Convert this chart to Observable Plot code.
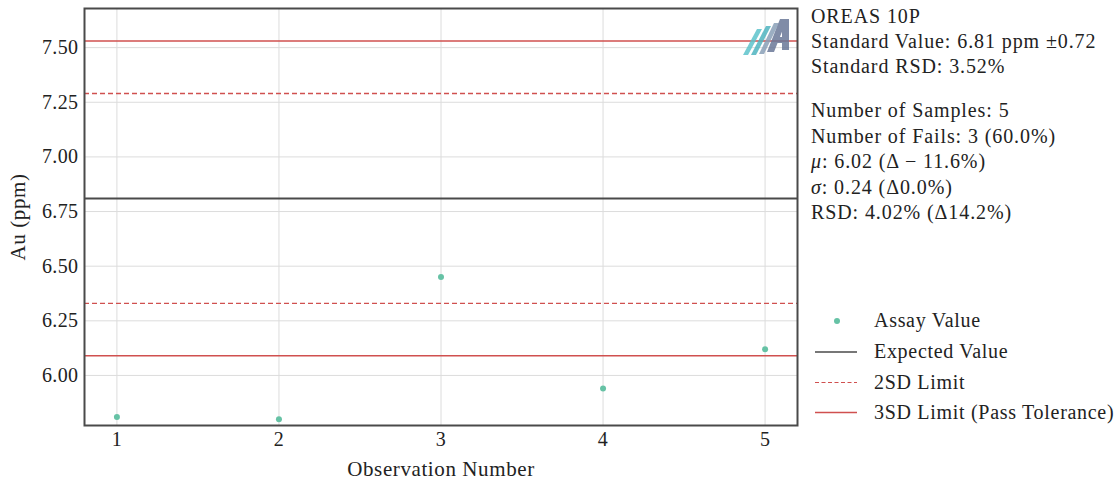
<!DOCTYPE html>
<html>
<head>
<meta charset="utf-8">
<script src="https://cdn.jsdelivr.net/npm/d3@7"></script>
<script src="https://cdn.jsdelivr.net/npm/@observablehq/plot@0.6"></script>
<style>
  html, body { margin: 0; padding: 0; background: #fff; }
  svg { display: block; }
</style>
</head>
<body>
<div id="chart"></div>
<script>
// ---- data ----
const observations = [1, 2, 3, 4, 5];
const assayValues = [5.81, 5.80, 6.45, 5.94, 6.12];
const expectedValue = [6.81];
const limits2SD = [6.33, 7.29];
const limits3SD = [6.09, 7.53];
const xTicks = [1, 2, 3, 4, 5];
const yTicks = [6.00, 6.25, 6.50, 6.75, 7.00, 7.25, 7.50];
const infoBlock1 = ["OREAS 10P", "Standard Value: 6.81 ppm \u00b10.72", "Standard RSD: 3.52%"];
const infoBlock2 = [
  [{t: "Number of Samples: 5"}],
  [{t: "Number of Fails: 3 (60.0%)"}],
  [{t: "\u03bc", i: true}, {t: ": 6.02 (\u0394 \u2212 11.6%)"}],
  [{t: "\u03c3", i: true}, {t: ": 0.24 (\u03940.0%)"}],
  [{t: "RSD: 4.02% (\u039414.2%)"}]
];
const legendLabels = ["Assay Value", "Expected Value", "2SD Limit", "3SD Limit (Pass Tolerance)"];

const points = observations.map((o, i) => ({obs: o, au: assayValues[i]}));

const FONT = "'Liberation Serif', 'DejaVu Serif', serif";
const RED = "#d0504f";
const TEAL = "#66c2a5";
const DARK = "#4a4a4a";

const chart = Plot.plot({
  width: 1118,
  height: 482,
  marginLeft: 84,
  marginRight: 321,
  marginTop: 8,
  marginBottom: 57,
  style: {fontFamily: FONT, fontSize: "20px", color: "#222", background: "#fff"},
  x: {domain: [0.8, 5.2], ticks: xTicks},
  y: {domain: [5.771, 7.679], ticks: yTicks},
  marks: [
    Plot.gridX(xTicks, {stroke: "#dcdcdc", strokeOpacity: 1, strokeWidth: 1}),
    Plot.gridY(yTicks, {stroke: "#dcdcdc", strokeOpacity: 1, strokeWidth: 1}),
    Plot.axisX(xTicks, {tickSize: 0, tickPadding: 6, tickFormat: d => String(d), label: "Observation Number", labelAnchor: "center", labelArrow: "none", labelOffset: 50}),
    Plot.axisY(yTicks, {tickSize: 0, tickPadding: 6, tickFormat: d3.format(".2f"), label: "Au (ppm)", labelAnchor: "center", labelArrow: "none", labelOffset: 74}),
    Plot.ruleY(limits3SD, {stroke: RED, strokeWidth: 1.6}),
    Plot.ruleY(limits2SD, {stroke: RED, strokeWidth: 1.4, strokeDasharray: "5,3"}),
    Plot.ruleY(expectedValue, {stroke: DARK, strokeWidth: 2}),
    Plot.dot(points, {x: "obs", y: "au", r: 3, fill: TEAL, stroke: "none"}),
    Plot.frame({stroke: DARK, strokeWidth: 2})
  ]
});
document.getElementById("chart").appendChild(chart);

const svg = d3.select(chart);
svg.selectAll('g[aria-label="x-axis label"] text, g[aria-label="y-axis label"] text')
  .attr("font-size", 21).attr("letter-spacing", 0.6);
svg.selectAll('g[aria-label="x-axis tick label"] text, g[aria-label="y-axis tick label"] text')
  .attr("letter-spacing", 0.4);

// logo
const logo = svg.append("g").attr("opacity", 0.85);
logo.append("polygon").attr("points", "743,55 748,55 762,29 757,29").attr("fill", "#5ec4cc");
logo.append("polygon").attr("points", "751,55 756,55 771,26 766,26").attr("fill", "#4fb5c0");
logo.append("polygon").attr("points", "759,54 764,54 779,23 774,23").attr("fill", "#8aa0b8");
logo.append("polygon").attr("points", "767,52 774,52 787,19 780,19").attr("fill", "#6a7898");
logo.append("polygon").attr("points", "782,50 789,50 789,19 782,19").attr("fill", "#6a7898");
logo.append("polygon").attr("points", "774,43 785,43 785,37 777,37").attr("fill", "#6a7898");

// info text
const info = svg.append("g").attr("font-family", FONT).attr("font-size", 20)
  .attr("letter-spacing", 0.9).attr("text-anchor", "start").attr("fill", "#222");
infoBlock1.forEach((t, i) => {
  info.append("text").attr("x", 811).attr("y", 23 + i * 24.8).text(t);
});
infoBlock2.forEach((parts, i) => {
  const tx = info.append("text").attr("x", 811).attr("y", 117 + i * 25.5);
  parts.forEach(p => tx.append("tspan").attr("font-style", p.i ? "italic" : null).text(p.t));
});

// legend
const leg = svg.append("g").attr("font-family", FONT).attr("font-size", 20)
  .attr("letter-spacing", 0.7).attr("text-anchor", "start").attr("fill", "#222");
const legY = [321, 352, 382.5, 412.5];
leg.append("circle").attr("cx", 837).attr("cy", legY[0]).attr("r", 3).attr("fill", TEAL);
leg.append("line").attr("x1", 815).attr("x2", 857).attr("y1", legY[1]).attr("y2", legY[1]).attr("stroke", DARK).attr("stroke-width", 1.4);
leg.append("line").attr("x1", 815).attr("x2", 857).attr("y1", legY[2]).attr("y2", legY[2]).attr("stroke", RED).attr("stroke-width", 1.2).attr("stroke-dasharray", "4,2.5");
leg.append("line").attr("x1", 815).attr("x2", 857).attr("y1", legY[3]).attr("y2", legY[3]).attr("stroke", RED).attr("stroke-width", 1.4);
legendLabels.forEach((t, i) => {
  leg.append("text").attr("x", 874).attr("y", legY[i] + 6).text(t);
});
</script>
</body>
</html>
